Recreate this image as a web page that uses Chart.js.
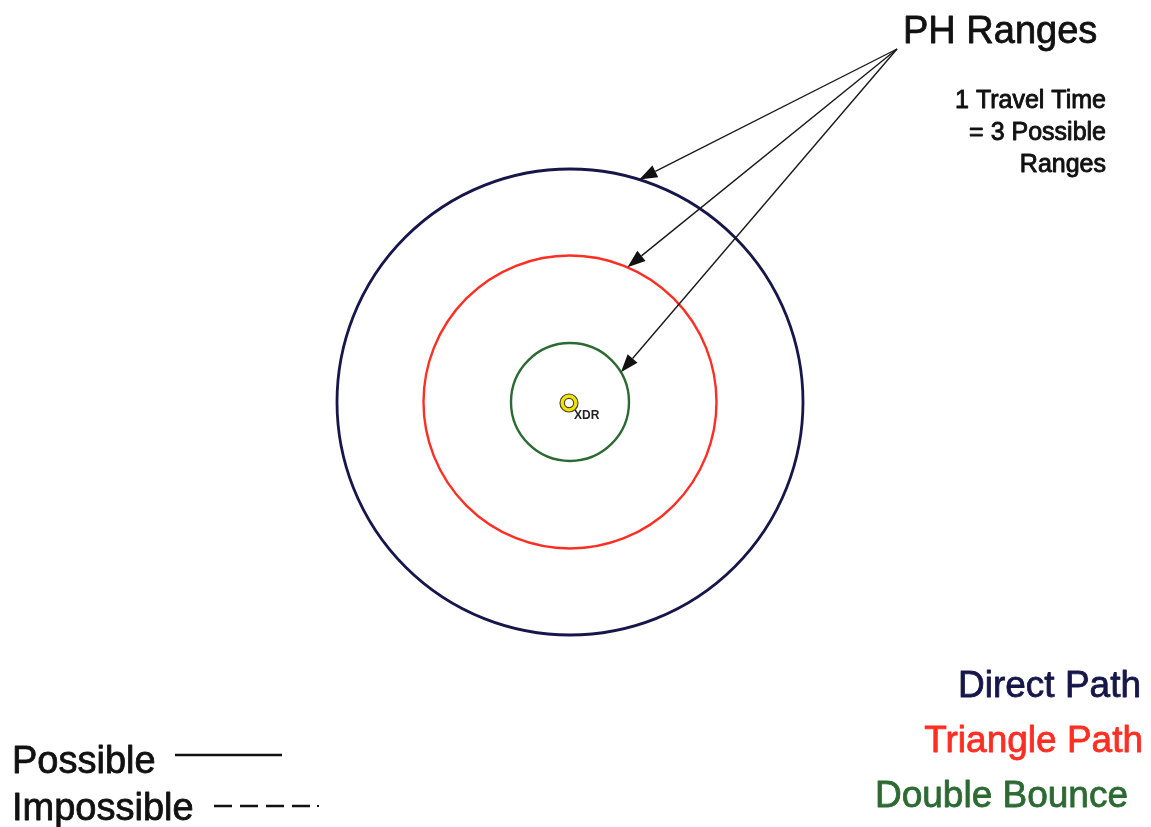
<!DOCTYPE html>
<html>
<head>
<meta charset="utf-8">
<title>PH Ranges</title>
<script src="https://cdn.jsdelivr.net/npm/chart.js@4"></script>
<style>
  html, body { margin: 0; padding: 0; background: #fff; }
  canvas { display: block; }
</style>
</head>
<body>
<canvas id="rangesChart" width="1151" height="827"></canvas>
<script>
// ranges for one travel time, same units as the plot (XDR at 0,0)
const pathNames = ['Direct Path', 'Triangle Path', 'Double Bounce'];
const pathRanges = [233, 146.5, 59];
const arrowBearings = [72.7, 66.9, 30.4]; // degrees, where each arrow meets its ring
const arrowSource = [327, 353];           // where the arrows leave from (under "PH Ranges")
const noteLines = ['1 Travel Time', '= 3 Possible', 'Ranges'];
const lineStyleNames = ['Possible', 'Impossible'];
const sensorName = 'XDR';

const pathColors = ['#16164a', '#ff2e22', '#2d6a33'];
const FONT = '"Liberation Sans", Arial, sans-serif';

function radiusPx(chart, r) {
  const s = chart.scales.x;
  return Math.abs(s.getPixelForValue(r) - s.getPixelForValue(0));
}

const ringSets = pathNames.map((name, i) => ({
  label: name,
  data: [{ x: 0, y: 0 }],
  pointRadius: c => radiusPx(c.chart, pathRanges[i]),
  pointBorderColor: pathColors[i],
  pointBackgroundColor: 'rgba(0,0,0,0)',
  pointBorderWidth: i === 0 ? 2.8 : 2.4
}));

// XDR marker: dark outlines round a yellow ring
const markerSets = [
  { label: 'outer', data: [{ x: -1, y: -1 }], pointRadius: 9, pointBorderColor: '#4a4620', pointBorderWidth: 1.2, pointBackgroundColor: 'rgba(0,0,0,0)' },
  { label: 'inner', data: [{ x: -1, y: -1 }], pointRadius: 4.6, pointBorderColor: '#4a4620', pointBorderWidth: 1.2, pointBackgroundColor: 'rgba(0,0,0,0)' },
  { label: sensorName, data: [{ x: -1, y: -1 }], pointRadius: 6.8, pointBorderColor: '#f2e400', pointBorderWidth: 4, pointBackgroundColor: '#ffffff' }
];

const background = {
  id: 'background',
  beforeDraw(chart) {
    const c = chart.ctx;
    c.save();
    c.fillStyle = '#ffffff';
    c.fillRect(0, 0, chart.width, chart.height);
    c.restore();
  }
};

const arrows = {
  id: 'arrows',
  afterDatasetsDraw(chart) {
    const c = chart.ctx, xs = chart.scales.x, ys = chart.scales.y;
    const sx = xs.getPixelForValue(arrowSource[0]);
    const sy = ys.getPixelForValue(arrowSource[1]);
    c.save();
    c.strokeStyle = '#1a1a1a';
    c.fillStyle = '#111';
    c.lineWidth = 1.4;
    pathRanges.forEach((r, i) => {
      const a = arrowBearings[i] * Math.PI / 180;
      const tx = xs.getPixelForValue(r * Math.cos(a));
      const ty = ys.getPixelForValue(r * Math.sin(a));
      const ang = Math.atan2(ty - sy, tx - sx);
      const len = 18, half = 6.5;
      const bx = tx - len * Math.cos(ang), by = ty - len * Math.sin(ang);
      c.beginPath();
      c.moveTo(sx, sy);
      c.lineTo(bx, by);
      c.stroke();
      c.beginPath();
      c.moveTo(tx, ty);
      c.lineTo(bx - half * Math.sin(ang), by + half * Math.cos(ang));
      c.lineTo(bx + half * Math.sin(ang), by - half * Math.cos(ang));
      c.closePath();
      c.fill();
    });
    c.restore();
  }
};

// scanned text looks a little heavier than plain regular weight
function heavyText(c, t, x, y, w) {
  c.fillText(t, x, y);
  c.lineWidth = w;
  c.strokeStyle = c.fillStyle;
  c.strokeText(t, x, y);
}

const labels = {
  id: 'labels',
  afterDraw(chart) {
    const c = chart.ctx;
    c.save();
    c.textBaseline = 'alphabetic';
    c.lineJoin = 'round';

    // title
    c.fillStyle = '#111';
    c.textAlign = 'left';
    c.font = '38px ' + FONT;
    heavyText(c, 'PH Ranges', 903, 43, 0.8);

    // note
    c.textAlign = 'right';
    c.font = '25px ' + FONT;
    noteLines.forEach((t, i) => heavyText(c, t, 1106, 108 + i * 32, 0.9));

    // sensor name
    c.textAlign = 'left';
    c.font = 'bold 12px ' + FONT;
    c.fillStyle = '#222';
    c.fillText(sensorName, 574, 419);

    // path key, bottom right
    c.font = '37px ' + FONT;
    const keyRight = [1141, 1143, 1128];
    pathNames.forEach((t, i) => {
      c.fillStyle = pathColors[i];
      c.textAlign = 'right';
      heavyText(c, t, keyRight[i], 697 + i * 55, 0.8);
    });

    // line style key, bottom left
    c.fillStyle = '#111';
    c.textAlign = 'left';
    c.font = '38px ' + FONT;
    heavyText(c, lineStyleNames[0], 12, 773, 0.8);
    heavyText(c, lineStyleNames[1], 12, 820, 0.8);
    c.strokeStyle = '#111';
    c.lineWidth = 2.6;
    c.lineCap = 'butt';
    c.beginPath();
    c.moveTo(175, 755);
    c.lineTo(282, 755);
    c.stroke();
    c.setLineDash([18, 8]);
    c.beginPath();
    c.moveTo(214, 806);
    c.lineTo(310, 806);
    c.stroke();
    c.setLineDash([]);
    c.fillRect(317, 805, 2, 2);
    c.restore();
  }
};

const ctx = document.getElementById('rangesChart').getContext('2d');
window.rangesChart = new Chart(ctx, {
  type: 'scatter',
  data: { datasets: markerSets.concat(ringSets) },
  options: {
    responsive: false,
    animation: false,
    events: [],
    layout: { padding: 0, autoPadding: false },
    scales: {
      x: { type: 'linear', min: -570, max: 581, display: false },
      y: { type: 'linear', min: -425, max: 402, display: false }
    },
    plugins: {
      legend: { display: false },
      tooltip: { enabled: false }
    }
  },
  plugins: [background, arrows, labels]
});
</script>
</body>
</html>
